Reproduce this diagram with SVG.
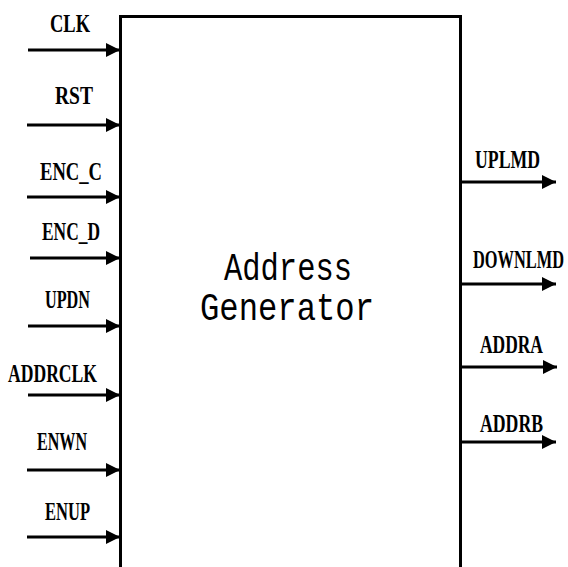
<svg xmlns="http://www.w3.org/2000/svg" width="568" height="567" viewBox="0 0 568 567">
<style>
.lbl{font-family:"Liberation Serif","Times New Roman",serif;font-weight:bold;font-size:26px;fill:#000}
.title{font-family:"Liberation Mono","DejaVu Sans Mono",monospace;font-size:38px;fill:#000}
.wire{stroke:#000;stroke-width:3;fill:none}
</style>
<defs>
<marker id="ah" markerUnits="userSpaceOnUse" markerWidth="15" markerHeight="15" refX="14" refY="7.5" orient="auto">
<path d="M0,0.5 L14,7.5 L0,14.5 Z" fill="#000"/>
</marker>
</defs>
<rect width="568" height="567" fill="#fff"/>
<g id="address-generator">
<path d="M120.5,575 L120.5,16.5 L460.5,16.5 L460.5,575" fill="none" stroke="#000" stroke-width="3"/>
<text class="title" x="288" y="280" text-anchor="middle" textLength="128" lengthAdjust="spacingAndGlyphs">Address</text>
<text class="title" x="287" y="320" text-anchor="middle" textLength="174" lengthAdjust="spacingAndGlyphs">Generator</text>
</g>
<g id="labels-in">
<text class="lbl" x="50" y="32" textLength="40" lengthAdjust="spacingAndGlyphs">CLK</text>
<text class="lbl" x="55" y="104" textLength="38" lengthAdjust="spacingAndGlyphs">RST</text>
<text class="lbl" x="40" y="180" textLength="62" lengthAdjust="spacingAndGlyphs">ENC_C</text>
<text class="lbl" x="42" y="240" textLength="58" lengthAdjust="spacingAndGlyphs">ENC_D</text>
<text class="lbl" x="45" y="308" textLength="45" lengthAdjust="spacingAndGlyphs">UPDN</text>
<text class="lbl" x="8" y="382" textLength="89" lengthAdjust="spacingAndGlyphs">ADDRCLK</text>
<text class="lbl" x="37" y="450" textLength="50" lengthAdjust="spacingAndGlyphs">ENWN</text>
<text class="lbl" x="45" y="520" textLength="45" lengthAdjust="spacingAndGlyphs">ENUP</text>
</g>
<g id="labels-out">
<text class="lbl" transform="matrix(0.682,0,0,1,475,168)">UPLMD</text>
<text class="lbl" transform="matrix(0.630,0,0,1,473,268)">DOWNLMD</text>
<text class="lbl" transform="matrix(0.671,0,0,1,480,353)">ADDRA</text>
<text class="lbl" transform="matrix(0.682,0,0,1,480,432)">ADDRB</text>
</g>
<g id="connectors">
<line class="wire" x1="28" y1="50" x2="120" y2="50" marker-end="url(#ah)"/>
<line class="wire" x1="27" y1="125" x2="120" y2="125" marker-end="url(#ah)"/>
<line class="wire" x1="27" y1="197" x2="120" y2="197" marker-end="url(#ah)"/>
<line class="wire" x1="30" y1="258" x2="120" y2="258" marker-end="url(#ah)"/>
<line class="wire" x1="28" y1="326" x2="120" y2="326" marker-end="url(#ah)"/>
<line class="wire" x1="28" y1="395" x2="120" y2="395" marker-end="url(#ah)"/>
<line class="wire" x1="27" y1="470" x2="120" y2="470" marker-end="url(#ah)"/>
<line class="wire" x1="27" y1="537" x2="120" y2="537" marker-end="url(#ah)"/>
<line class="wire" x1="461" y1="182" x2="556" y2="182" marker-end="url(#ah)"/>
<line class="wire" x1="461" y1="284" x2="556" y2="284" marker-end="url(#ah)"/>
<line class="wire" x1="461" y1="367" x2="557" y2="367" marker-end="url(#ah)"/>
<line class="wire" x1="461" y1="442" x2="556" y2="442" marker-end="url(#ah)"/>
</g>
</svg>
